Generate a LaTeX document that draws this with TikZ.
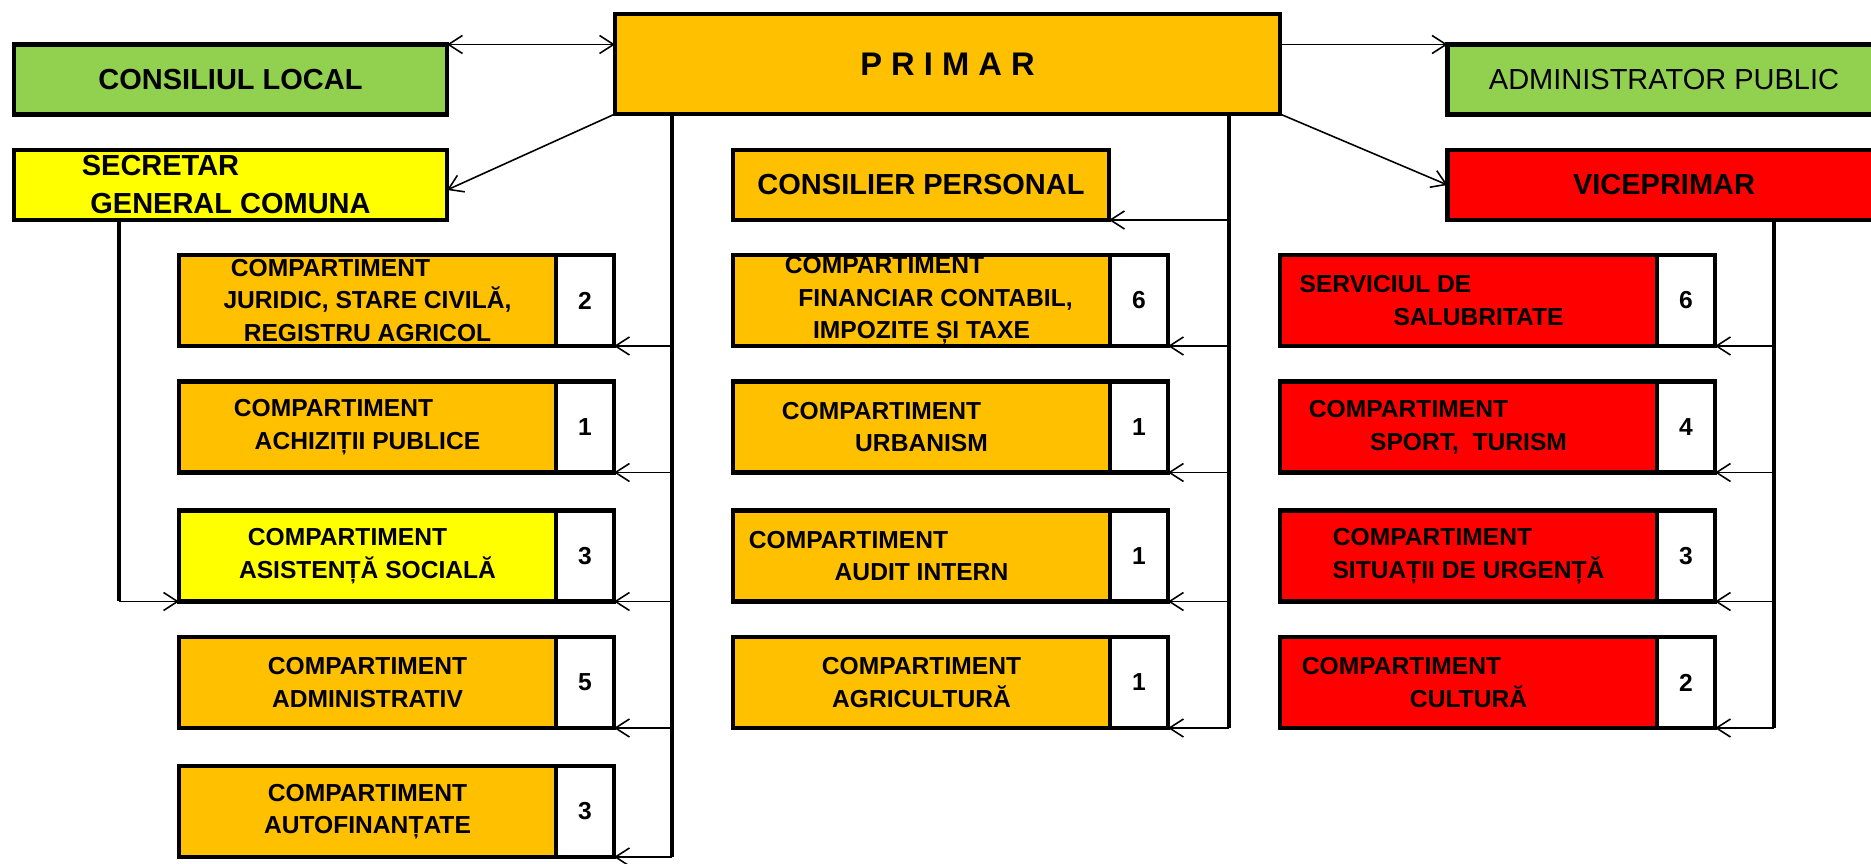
\documentclass[tikz,border=0pt]{standalone}
\usepackage{fontspec}
\setmainfont{Liberation Sans}
\usetikzlibrary{positioning,arrows.meta}

\definecolor{portocaliu}{HTML}{FFC000}
\definecolor{verde}{HTML}{92D050}
\definecolor{galben}{HTML}{FFFF00}
\definecolor{rosu}{HTML}{FF0000}

% muta un rand de text la stanga/dreapta
\newcommand{\mv}[2]{\hbox{\kern#1\relax#2\kern-#1\relax}}

\begin{document}
\begin{tikzpicture}
  [every node/.style={draw=black, line width=1.3pt, inner sep=1pt, outer sep=0pt, align=center},
   sef/.style={minimum width=4.33cm, minimum height=0.7cm, font=\fontsize{8.25}{10.8}\selectfont\bfseries},
   comp/.style={inner sep=0pt, minimum width=3.77cm, minimum height=0.91cm, font=\fontsize{7}{9.3}\selectfont\bfseries},
   nrbox/.style={fill=white, minimum width=0.58cm, minimum height=0.91cm, font=\fontsize{7}{9.3}\selectfont\bfseries, right=0pt of #1},
   varf/.tip={Straight Barb[length=1.4mm,width=1.8mm]},
   trunchi/.style={line width=1.3pt},
   sag/.style={-varf, line width=0.45pt},
   dublu/.style={varf-varf, line width=0.45pt}]

  \useasboundingbox (0,0) rectangle (18.71,-8.64);

  %%%%%%%%%%%%%%%%%%%%%% CONDUCERE %%%%%%%%%%%%%%%%%%%%%%

  \node[sef, fill=verde] (consiliu) at (2.305,-0.795)  {CONSILIUL LOCAL};
  \node[sef, fill=portocaliu, minimum width=6.65cm, minimum height=1cm,
        font=\fontsize{9.3}{11}\selectfont\bfseries] (primar) at (9.475,-0.64) {P R I M A R};
  \node[sef, fill=verde, font=\fontsize{8.25}{10.8}\selectfont] (admin) at (16.64,-0.795) {ADMINISTRATOR PUBLIC};
  \node[sef, fill=galben] (secretar) at (2.305,-1.85)  {\mv{-0.7cm}{SECRETAR}\\GENERAL COMUNA};
  \node[sef, fill=portocaliu, minimum width=3.76cm] (consilier) at (9.21,-1.85) {CONSILIER PERSONAL};
  \node[sef, fill=rosu] (vice) at (16.64,-1.85)        {VICEPRIMAR};

  %%%%%%%%%%%%%%%%%%%%%% COLOANA STANGA %%%%%%%%%%%%%%%%%%%%%%

  \node[comp, fill=portocaliu] (cl_1) at (3.675,-3.005) {\mv{-0.37cm}{COMPARTIMENT}\\JURIDIC, STARE CIVILĂ,\\REGISTRU AGRICOL};
  \node[nrbox=cl_1] (nl_1) {2};
  \node[comp, fill=portocaliu] (cl_2) at (3.675,-4.27)  {\mv{-0.34cm}{COMPARTIMENT}\\ACHIZIȚII PUBLICE};
  \node[nrbox=cl_2] (nl_2) {1};
  \node[comp, fill=galben] (cl_3) at (3.675,-5.56)      {\mv{-0.2cm}{COMPARTIMENT}\\ASISTENȚĂ SOCIALĂ};
  \node[nrbox=cl_3] (nl_3) {3};
  \node[comp, fill=portocaliu] (cl_4) at (3.675,-6.825) {COMPARTIMENT\\ADMINISTRATIV};
  \node[nrbox=cl_4] (nl_4) {5};
  \node[comp, fill=portocaliu] (cl_5) at (3.675,-8.115) {COMPARTIMENT\\AUTOFINANȚATE};
  \node[nrbox=cl_5] (nl_5) {3};

  %%%%%%%%%%%%%%%%%%%%%% COLOANA MIJLOC %%%%%%%%%%%%%%%%%%%%%%

  \node[comp, fill=portocaliu] (cm_1) at (9.215,-3.005) {\mv{-0.37cm}{COMPARTIMENT}\\\mv{0.14cm}{FINANCIAR CONTABIL,}\\IMPOZITE ȘI TAXE};
  \node[nrbox=cm_1] (nm_1) {6};
  \node[comp, fill=portocaliu] (cm_2) at (9.215,-4.27)  {\mv{-0.4cm}{COMPARTIMENT}\\URBANISM};
  \node[nrbox=cm_2] (nm_2) {1};
  \node[comp, fill=portocaliu] (cm_3) at (9.215,-5.56)  {\mv{-0.73cm}{COMPARTIMENT}\\AUDIT INTERN};
  \node[nrbox=cm_3] (nm_3) {1};
  \node[comp, fill=portocaliu] (cm_4) at (9.215,-6.825) {COMPARTIMENT\\AGRICULTURĂ};
  \node[nrbox=cm_4] (nm_4) {1};

  %%%%%%%%%%%%%%%%%%%%%% COLOANA DREAPTA %%%%%%%%%%%%%%%%%%%%%%

  \node[comp, fill=rosu] (cr_1) at (14.685,-3.005) {\mv{-0.83cm}{SERVICIUL DE}\\\mv{0.1cm}{SALUBRITATE}};
  \node[nrbox=cr_1] (nr_1) {6};
  \node[comp, fill=rosu] (cr_2) at (14.685,-4.27)  {\mv{-0.6cm}{COMPARTIMENT}\\SPORT,~ TURISM};
  \node[nrbox=cr_2] (nr_2) {4};
  \node[comp, fill=rosu] (cr_3) at (14.685,-5.56)  {\mv{-0.36cm}{COMPARTIMENT}\\SITUAȚII DE URGENȚĂ};
  \node[nrbox=cr_3] (nr_3) {3};
  \node[comp, fill=rosu] (cr_4) at (14.685,-6.825) {\mv{-0.67cm}{COMPARTIMENT}\\CULTURĂ};
  \node[nrbox=cr_4] (nr_4) {2};

  %%%%%%%%%%%%%%%%%%%%%% LEGATURI %%%%%%%%%%%%%%%%%%%%%%

  \coordinate (ax_sec) at (1.19,0);
  \coordinate (ax_st)  at (6.72,0);
  \coordinate (ax_mj)  at (12.29,0);
  \coordinate (ax_dr)  at (17.74,0);

  \draw[dublu] (consiliu.north east) -- (consiliu.north east -| primar.west);
  \draw[sag]   (primar.east |- admin.north west) -- (admin.north west);
  \draw[sag]   (primar.south west) -- ([yshift=-0.05cm]secretar.east);
  \draw[sag]   (primar.south east) -- (vice.west);

  \draw[trunchi] (secretar.south -| ax_sec) -- (cl_3.south -| ax_sec);
  \draw[trunchi] (primar.south -| ax_st) -- (nl_5.south -| ax_st);
  \draw[trunchi] (primar.south -| ax_mj) -- (nm_4.south -| ax_mj);
  \draw[trunchi] (vice.south -| ax_dr) -- (nr_4.south -| ax_dr);

  \draw[sag] (cl_3.south west -| ax_sec) -- (cl_3.south west);
  \draw[sag] (consilier.south east -| ax_mj) -- (consilier.south east);

  \foreach \i in {1,...,5}
    \draw[sag] (nl_\i.south east -| ax_st) -- (nl_\i.south east);

  \foreach \i in {1,...,4}
    \draw[sag] (nm_\i.south east -| ax_mj) -- (nm_\i.south east);

  \foreach \i in {1,...,4}
    \draw[sag] (nr_\i.south east -| ax_dr) -- (nr_\i.south east);

\end{tikzpicture}
\end{document}
